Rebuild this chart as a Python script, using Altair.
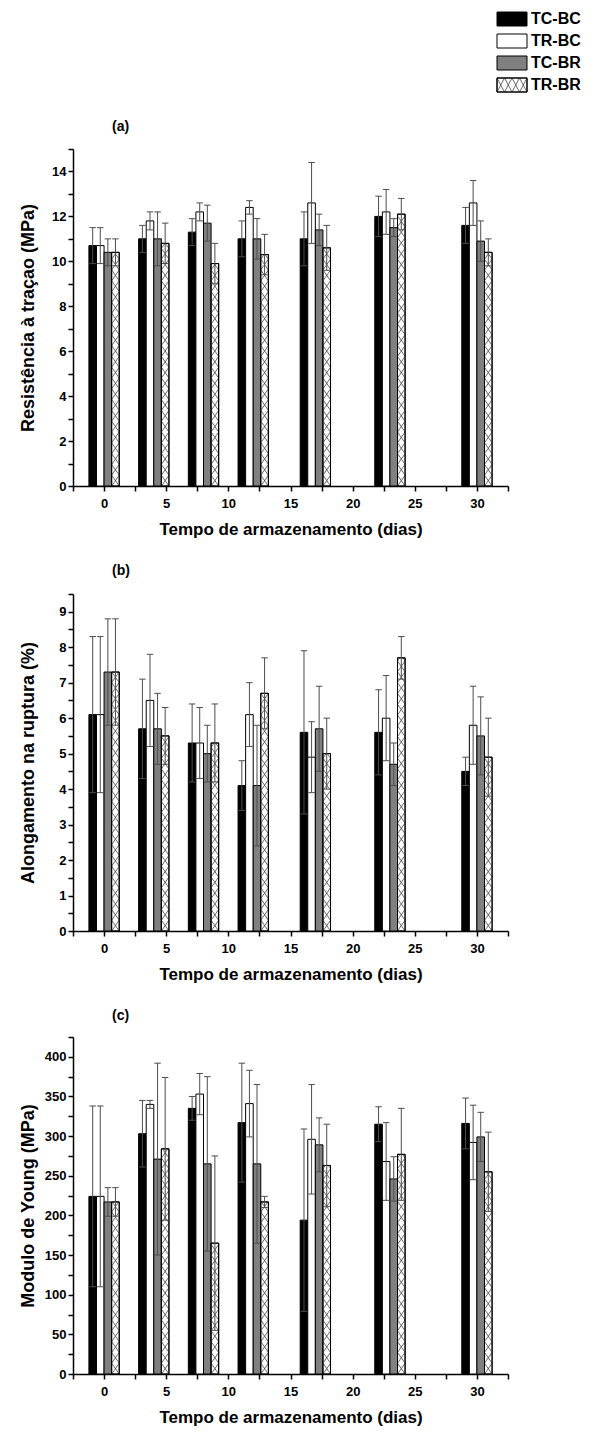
import altair as alt
import pandas as pd

# ---------------- data ----------------
days = [0, 4, 8, 12, 17, 23, 30]
series = ["TC-BC", "TR-BC", "TC-BR", "TR-BR"]
fills = ["#000000", "#ffffff", "#808080", "#ffffff"]

# (a) Resistência à tração (MPa)
res_mean = {
    "TC-BC": [10.7, 11.0, 11.3, 11.0, 11.0, 12.0, 11.6],
    "TR-BC": [10.7, 11.8, 12.2, 12.4, 12.6, 12.2, 12.6],
    "TC-BR": [10.4, 11.0, 11.7, 11.0, 11.4, 11.5, 10.9],
    "TR-BR": [10.4, 10.8, 9.9, 10.3, 10.6, 12.1, 10.4],
}
res_sd = {
    "TC-BC": [0.8, 0.6, 0.6, 0.8, 1.2, 0.9, 0.8],
    "TR-BC": [0.8, 0.4, 0.4, 0.3, 1.8, 1.0, 1.0],
    "TC-BR": [0.6, 1.2, 0.8, 0.9, 0.7, 0.4, 0.9],
    "TR-BR": [0.6, 0.9, 0.9, 0.9, 1.0, 0.7, 0.6],
}

# (b) Alongamento na ruptura (%)
alo_mean = {
    "TC-BC": [6.1, 5.7, 5.3, 4.1, 5.6, 5.6, 4.5],
    "TR-BC": [6.1, 6.5, 5.3, 6.1, 4.9, 6.0, 5.8],
    "TC-BR": [7.3, 5.7, 5.0, 4.1, 5.7, 4.7, 5.5],
    "TR-BR": [7.3, 5.5, 5.3, 6.7, 5.0, 7.7, 4.9],
}
alo_sd = {
    "TC-BC": [2.2, 1.4, 1.1, 0.7, 2.3, 1.2, 0.4],
    "TR-BC": [2.2, 1.3, 1.0, 0.9, 1.0, 1.2, 1.1],
    "TC-BR": [1.5, 1.0, 0.8, 1.7, 1.2, 0.6, 1.1],
    "TR-BR": [1.5, 0.8, 1.1, 1.0, 1.0, 0.6, 1.1],
}

# (c) Modulo de Young (MPa)
you_mean = {
    "TC-BC": [224, 303, 335, 317, 194, 315, 316],
    "TR-BC": [224, 340, 353, 341, 296, 268, 292],
    "TC-BR": [217, 271, 265, 265, 289, 246, 299],
    "TR-BR": [217, 284, 165, 217, 263, 277, 255],
}
you_sd = {
    "TC-BC": [114, 42, 15, 75, 115, 22, 32],
    "TR-BC": [114, 5, 26, 42, 69, 49, 47],
    "TC-BR": [18, 121, 110, 100, 34, 28, 31],
    "TR-BR": [18, 90, 110, 7, 52, 58, 50],
}

x_ticks = [-2.5, 0, 2.5, 5, 7.5, 10, 12.5, 15, 17.5, 20, 22.5, 25, 27.5, 30, 32.5]

FONT = "Liberation Sans"
PW, PH = 435, 337
W = 0.61          # bar width in days
ERR = "#4d4d4d"
HATCH = "#444444"
XTITLE = "Tempo de armazenamento (dias)"


def long_df(means, sds):
    rows = []
    for i, s in enumerate(series):
        for d, m, e in zip(days, means[s], sds[s]):
            rows.append({"day": d, "series": s, "idx": i, "value": m, "sd": e})
    return pd.DataFrame(rows)


def panel(means, sds, ymax, ystep, lab_mod, ytitle, letter, letter_y):
    df = long_df(means, sds)
    C = ymax * 10.8 / PH  # hatch period in data units (~10.8 px)
    n = int(round(ymax / ystep))
    yvals = [round(k * ystep, 4) for k in range(n + 1)]
    xs = alt.Scale(domain=[-2.5, 32.5], nice=False, zero=False)
    ys = alt.Scale(domain=[0, ymax], nice=False)

    xaxis = alt.Axis(
        title=XTITLE, values=x_ticks,
        labelExpr="datum.value % 5 == 0 ? format(datum.value, 'd') : ''",
        titleFontSize=17, labelPadding=6, titlePadding=11, labelFlush=False,
    )
    yaxis = alt.Axis(
        title=ytitle, values=yvals,
        labelExpr=f"abs(datum.value % {lab_mod}) < 0.001 ? format(datum.value, 'd') : ''",
        titleFontSize=18, titleX=-45, titleBaseline="middle", labelPadding=2,
    )

    def X(f):
        return alt.X(f, scale=xs, axis=xaxis, title=XTITLE)

    def Y(f):
        return alt.Y(f, scale=ys, axis=yaxis, title=ytitle)

    base = alt.Chart(df).transform_calculate(
        xl=f"datum.day + (datum.idx - 2) * {W}",
        xr=f"datum.day + (datum.idx - 1) * {W}",
        xc=f"datum.day + (datum.idx - 1.5) * {W}",
        cl=f"datum.day + (datum.idx - 1.5) * {W} - 0.26",
        cr=f"datum.day + (datum.idx - 1.5) * {W} + 0.26",
        lo="datum.value - datum.sd",
        hi="datum.value + datum.sd",
        zero="0",
    )

    bars = base.mark_bar(stroke="black", strokeWidth=1).encode(
        x=X("xl:Q"), x2="xr:Q",
        y=Y("value:Q"), y2="zero:Q",
        fill=alt.Fill("series:N", scale=alt.Scale(domain=series, range=fills), legend=None),
    )

    hatch = base.transform_filter("datum.series == 'TR-BR'").transform_calculate(
        k=f"sequence(0, ceil(datum.value / {C}))"
    ).transform_flatten(["k"]).transform_calculate(
        y0=f"datum.k * {C}",
        y1=f"min((datum.k + 1) * {C}, datum.value)",
        f=f"(min((datum.k + 1) * {C}, datum.value) - datum.k * {C}) / {C}",
        ha=f"datum.xl + datum.f * {W}",
        hb=f"datum.xr - datum.f * {W}",
    )
    h1 = hatch.mark_rule(color=HATCH, strokeWidth=0.8).encode(
        x=X("xl:Q"), x2="ha:Q", y=Y("y0:Q"), y2="y1:Q",
    )
    h2 = hatch.mark_rule(color=HATCH, strokeWidth=0.8).encode(
        x=X("xr:Q"), x2="hb:Q", y=Y("y0:Q"), y2="y1:Q",
    )
    outline = base.transform_filter("datum.series == 'TR-BR'").mark_bar(
        fillOpacity=0, stroke="black", strokeWidth=1
    ).encode(x=X("xl:Q"), x2="xr:Q", y=Y("value:Q"), y2="zero:Q")
    err = base.mark_rule(color=ERR, strokeWidth=1).encode(
        x=X("xc:Q"), y=Y("lo:Q"), y2="hi:Q",
    )
    cap_t = base.mark_rule(color=ERR, strokeWidth=1).encode(
        x=X("cl:Q"), x2="cr:Q", y=Y("hi:Q"),
    )
    cap_b = base.mark_rule(color=ERR, strokeWidth=1).encode(
        x=X("cl:Q"), x2="cr:Q", y=Y("lo:Q"),
    )
    lab = alt.Chart(pd.DataFrame({"t": [letter]})).mark_text(
        font=FONT, fontSize=14, fontWeight="bold", align="left", baseline="middle", color="black"
    ).encode(x=alt.value(39), y=alt.value(letter_y), text="t:N")

    return alt.layer(bars, h1, h2, outline, err, cap_t, cap_b, lab).properties(width=PW, height=PH)


# ---------------- legend ----------------
leg_df = pd.DataFrame({"series": series, "idx": list(range(len(series)))})
lbase = alt.Chart(leg_df).transform_calculate(
    ly0="datum.idx * 22", ly1="datum.idx * 22 + 14", lyc="datum.idx * 22 + 7"
)
l_rect = lbase.mark_rect(stroke="black", strokeWidth=1).encode(
    x=alt.value(424), x2=alt.value(454),
    y=alt.Y("ly0:Q", scale=None, axis=None), y2="ly1:Q",
    fill=alt.Fill("series:N", scale=alt.Scale(domain=series, range=fills), legend=None),
)
l_hatch = lbase.transform_filter("datum.series == 'TR-BR'").transform_calculate(
    k="sequence(0, 4)"
).transform_flatten(["k"]).transform_calculate(
    lx0="424 + datum.k * 7.5", lx1="424 + (datum.k + 1) * 7.5"
)
l_h1 = l_hatch.mark_rule(color=HATCH, strokeWidth=0.8).encode(
    x=alt.X("lx0:Q", scale=None, axis=None), x2="lx1:Q",
    y=alt.Y("ly1:Q", scale=None, axis=None), y2="ly0:Q",
)
l_h2 = l_hatch.mark_rule(color=HATCH, strokeWidth=0.8).encode(
    x=alt.X("lx0:Q", scale=None, axis=None), x2="lx1:Q",
    y=alt.Y("ly0:Q", scale=None, axis=None), y2="ly1:Q",
)
l_rect2 = lbase.transform_filter("datum.series == 'TR-BR'").mark_rect(
    fillOpacity=0, stroke="black", strokeWidth=1
).encode(
    x=alt.value(424), x2=alt.value(454),
    y=alt.Y("ly0:Q", scale=None, axis=None), y2="ly1:Q",
)
l_text = lbase.mark_text(
    font=FONT, fontSize=16, fontWeight="bold", align="left", baseline="middle", color="black"
).encode(
    x=alt.value(458), y=alt.Y("lyc:Q", scale=None, axis=None), text="series:N"
)
legend = alt.layer(l_rect, l_h1, l_h2, l_rect2, l_text).properties(width=PW, height=80)

pa = panel(res_mean, res_sd, 15, 1, 2, "Resistência à traçao (MPa)", "(a)", -22)
pb = panel(alo_mean, alo_sd, 9.5, 0.5, 1, "Alongamento na ruptura (%)", "(b)", -23)
pc = panel(you_mean, you_sd, 425, 25, 50, "Modulo de Young (MPa)", "(c)", -21)

chart = alt.vconcat(legend, pa, pb, pc, spacing=27).properties(
    padding={"left": 19, "top": 11, "right": 2, "bottom": 5}
).configure_view(stroke=None).configure_axis(
    grid=False, domainColor="black", domainWidth=1.5, tickColor="black", tickWidth=1.5,
    tickSize=5, labelFont=FONT, labelFontSize=13, labelFontWeight="bold", labelColor="black",
    titleFont=FONT, titleFontWeight="bold", titleColor="black",
)

chart.save("out.html", embed_options={"renderer": "svg", "actions": False})
